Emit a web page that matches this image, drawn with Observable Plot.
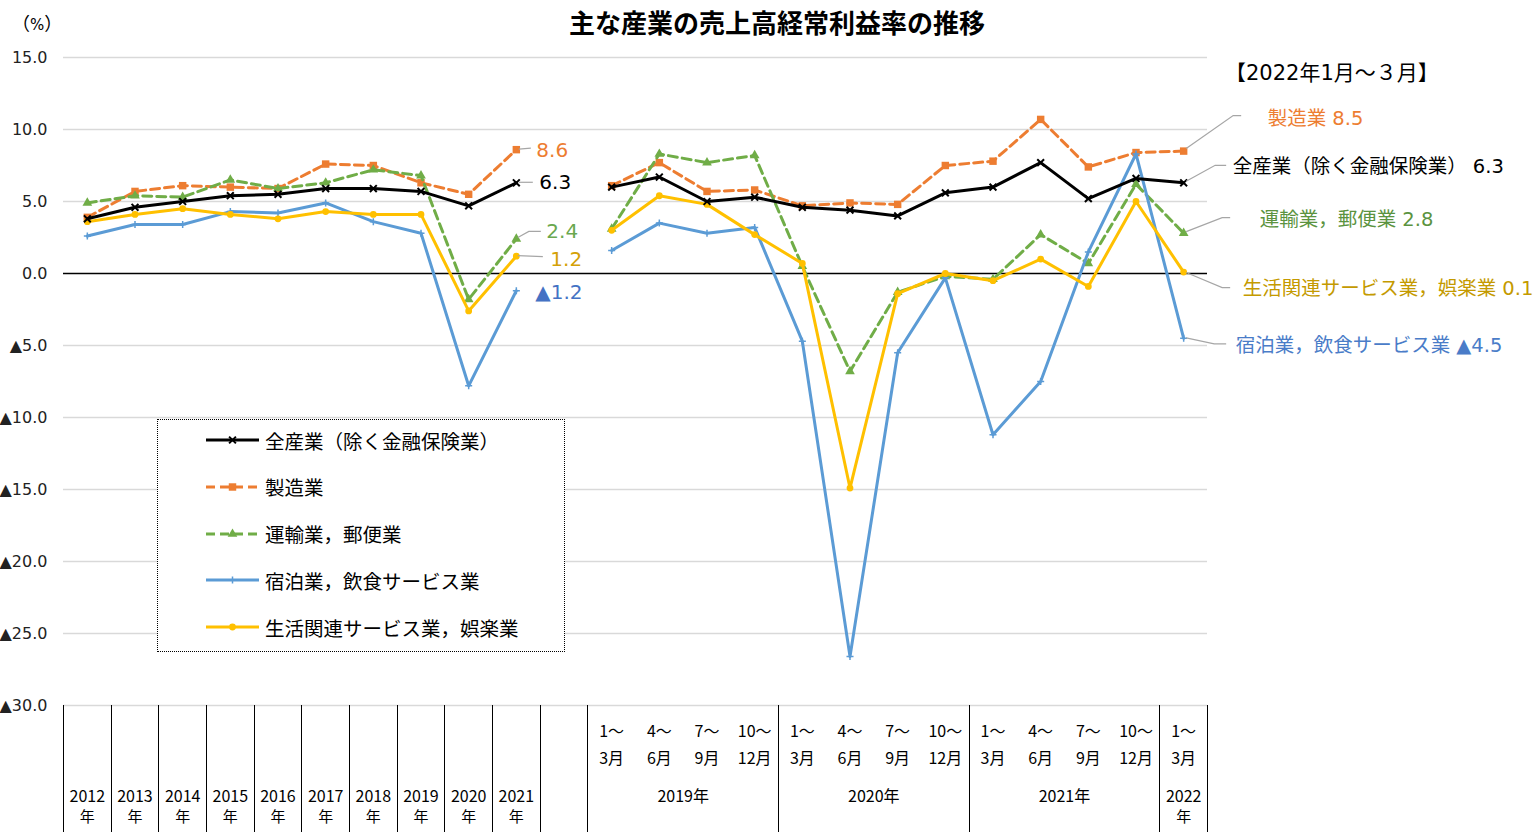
<!DOCTYPE html>
<html><head><meta charset="utf-8">
<script src="https://cdn.jsdelivr.net/npm/d3@7"></script>
<script src="https://cdn.jsdelivr.net/npm/@observablehq/plot@0.6"></script>
<style>
body{margin:0;background:#fff;}
#wrap{position:relative;width:1540px;height:832px;overflow:hidden;font-family:"DejaVu Sans","Noto Sans CJK JP",sans-serif;color:#000;}
.ov{position:absolute;white-space:nowrap;}
#title{left:0;width:1554px;top:7px;text-align:center;font-family:"Noto Sans CJK JP",sans-serif;font-weight:bold;font-size:26px;line-height:30px;}
#unit{left:12px;top:11px;font-family:"Noto Sans CJK JP",sans-serif;font-size:18px;line-height:22px;}
#unit b{font-weight:normal;font-family:"DejaVu Sans",sans-serif;font-size:15px;}
#period{left:1225px;top:59px;font-family:"DejaVu Sans","Noto Sans CJK JP",sans-serif;font-size:21px;line-height:28px;}
#legend{left:157px;top:419px;width:406px;height:231px;border:1px dotted #000;background:#fff;}
.lrow{position:absolute;left:0;height:30px;display:flex;align-items:center;}
.lrow span{font-family:"Noto Sans CJK JP",sans-serif;font-size:19.5px;margin-left:3px;}
</style></head><body><div id="wrap"></div>
<script>
// ---- data ----
const annualCats = ["2012","2013","2014","2015","2016","2017","2018","2019","2020","2021"];
const quarterTop = ["1～","4～","7～","10～","1～","4～","7～","10～","1～","4～","7～","10～","1～"];
const quarterBottom = ["3月","6月","9月","12月","3月","6月","9月","12月","3月","6月","9月","12月","3月"];
const quarterYears = ["2019年","2020年","2021年"];
const lastYear = "2022";
const seriesNames = ["全産業（除く金融保険業）","製造業","運輸業，郵便業","宿泊業，飲食サービス業","生活関連サービス業，娯楽業"];
const yTicks = [15,10,5,0,-5,-10,-15,-20,-25,-30];

const annualAll   = [3.8,4.6,5.0,5.4,5.5,5.9,5.9,5.7,4.7,6.3];
const annualMfg   = [3.9,5.7,6.1,6.0,5.9,7.6,7.5,6.3,5.5,8.6];
const annualTrans = [4.9,5.4,5.3,6.5,5.9,6.3,7.2,6.8,-1.8,2.4];
const annualHotel = [2.6,3.4,3.4,4.3,4.2,4.9,3.6,2.8,-7.8,-1.2];
const annualLife  = [3.6,4.1,4.5,4.1,3.8,4.3,4.1,4.1,-2.6,1.2];

const quarterAll   = [6.0,6.7,5.0,5.3,4.6,4.4,4.0,5.6,6.0,7.7,5.2,6.6,6.3];
const quarterMfg   = [6.1,7.7,5.7,5.8,4.7,4.9,4.8,7.5,7.8,10.7,7.4,8.4,8.5];
const quarterTrans = [3.1,8.3,7.7,8.2,0.5,-6.8,-1.3,-0.2,-0.4,2.7,0.7,6.2,2.8];
const quarterHotel = [1.6,3.5,2.8,3.2,-4.7,-26.6,-5.5,-0.3,-11.2,-7.5,1.5,8.3,-4.5];
const quarterLife  = [3.0,5.4,4.8,2.7,0.7,-14.9,-1.4,0.0,-0.5,1.0,-0.9,5.0,0.1];

// ---- styles / layout ----
const styles = [
  {color:"#000000", dash:null, symbol:"times", r:3.2, fill:"none", stroke:"#000", sw:2},
  {color:"#ED7D31", dash:"9,5", symbol:"square", r:4.2, fill:"#ED7D31", stroke:"none", sw:0},
  {color:"#70AD47", dash:"9,5", symbol:"triangle", r:3.6, fill:"#70AD47", stroke:"none", sw:0},
  {color:"#5B9BD5", dash:null, symbol:"plus", r:2.4, fill:"none", stroke:"#5B9BD5", sw:1.5},
  {color:"#FFC000", dash:null, symbol:"circle", r:3.4, fill:"#FFC000", stroke:"none", sw:0}
];
const drawOrder = [1,2,3,4,0];
const annualSeries = [annualAll,annualMfg,annualTrans,annualHotel,annualLife];
const quarterSeries = [quarterAll,quarterMfg,quarterTrans,quarterHotel,quarterLife];
const nA = annualCats.length, gap = 1, q0 = nA + gap, nSlots = q0 + quarterTop.length;

const fmt = v => v < 0 ? "▲" + Math.abs(v).toFixed(1) : v.toFixed(1);

const rows = [];
seriesNames.forEach((name,k)=>{
  annualSeries[k].forEach((v,i)=>rows.push({k, seg:0, x:i, v}));
  quarterSeries[k].forEach((v,j)=>rows.push({k, seg:1, x:q0+j, v}));
});

const leftLayout = [
  {k:1, dx:20, dy:1, leader:[[3,0],[15,-1]], color:"#ED7D31"},
  {k:0, dx:23, dy:0, leader:[[3,0],[17,0]], color:"#000000"},
  {k:2, dx:30, dy:-7, leader:[[2,-1],[13,-7],[25,-7]], color:"#6AA84F"},
  {k:4, dx:34, dy:3, leader:[[2,0],[27,1]], color:"#D4A106"},
  {k:3, dx:19, dy:2, leader:null, color:"#4472C4"}
];
const rightLayout = [
  {k:1, dx:84, dy:-32, leader:[[3,-2],[50,-35],[58,-35]], color:"#ED7D31"},
  {k:0, dx:49, dy:-16, leader:[[3,-1],[32,-17],[43,-17]], color:"#000000"},
  {k:2, dx:76, dy:-13, leader:[[3,-1],[39,-15],[47,-15]], color:"#5B9340"},
  {k:4, dx:59, dy:17, leader:[[3,1],[39,16],[47,16]], color:"#C49A00"},
  {k:3, dx:52, dy:7, leader:[[3,0],[31,6],[43,6]], color:"#4A7CC8"}
];

const lastA = nA - 1, lastQ = nSlots - 1;

function leaderMark(layout, xi, valuesOf) {
  return (index, scales) => {
    const g = d3.create("svg:g").attr("fill","none").attr("stroke","#A6A6A6").attr("stroke-width",1.2);
    layout.forEach(L => {
      if (!L.leader) return;
      const px = scales.x(xi), py = scales.y(valuesOf[L.k][valuesOf[L.k].length-1]);
      g.append("path").attr("d", d3.line()(L.leader.map(([a,b]) => [px+a, py+b])));
    });
    return g.node();
  };
}

function tableMark(index, scales, values, dims) {
  const g = d3.create("svg:g").attr("stroke","#000").attr("stroke-width",1);
  const top = dims.height - dims.marginBottom, bottom = dims.height;
  const bounds = [];
  for (let i = 0; i <= q0; i++) bounds.push(i - 0.5);
  quarterYears.forEach((_,j)=>bounds.push(q0 + 4*(j+1) - 0.5));
  bounds.push(nSlots - 0.5);
  bounds.forEach(b => {
    const px = Math.round(scales.x(b)) + 0.5;
    g.append("line").attr("x1",px).attr("x2",px).attr("y1",top).attr("y2",bottom);
  });
  return g.node();
}

const marks = [
  Plot.ruleY(yTicks.filter(d=>d!==0), {stroke:"#D9D9D9", strokeWidth:1.3}),
  Plot.ruleY([0], {stroke:"#000", strokeWidth:1.6}),
  tableMark
];
drawOrder.forEach(k=>{
  const s = styles[k];
  const data = rows.filter(d=>d.k===k);
  marks.push(Plot.line(data, {x:"x", y:"v", z:"seg", stroke:s.color, strokeWidth:3, strokeDasharray:s.dash||undefined, strokeLinejoin:"round"}));
  marks.push(Plot.dot(data, {x:"x", y:"v", symbol:()=>s.symbol, r:s.r, fill:s.fill, stroke:s.stroke, strokeWidth:s.sw}));
});
marks.push(leaderMark(leftLayout, lastA, annualSeries));
marks.push(leaderMark(rightLayout, lastQ, quarterSeries));
leftLayout.forEach(L=>{
  const v = annualSeries[L.k][lastA];
  marks.push(Plot.text([v], {x:()=>lastA, y:d=>d, text:d=>fmt(d), dx:L.dx, dy:L.dy, textAnchor:"start", fill:L.color, fontSize:20, fontFamily:"DejaVu Sans, Noto Sans CJK JP"}));
});
rightLayout.forEach(L=>{
  const v = quarterSeries[L.k][quarterSeries[L.k].length-1];
  marks.push(Plot.text([v], {x:()=>lastQ, y:d=>d, text:d=>seriesNames[L.k] + " " + fmt(d), dx:L.dx, dy:L.dy, textAnchor:"start", fill:L.color, fontSize:19.5, fontFamily:"DejaVu Sans, Noto Sans CJK JP"}));
});
// x axis table text
const xFont = "Noto Sans CJK JP";
const xSize = 16;
marks.push(Plot.text(annualCats, {x:(d,i)=>i, text:d=>d, frameAnchor:"bottom", dy:96, fontSize:xSize, fontFamily:xFont, fill:"#000"}));
marks.push(Plot.text(annualCats, {x:(d,i)=>i, text:()=>"年", frameAnchor:"bottom", dy:116, fontSize:15, fontFamily:xFont, fill:"#000"}));
marks.push(Plot.text(quarterTop, {x:(d,i)=>q0+i, text:d=>d, frameAnchor:"bottom", dy:31, fontSize:xSize, fontFamily:xFont, fill:"#000"}));
marks.push(Plot.text(quarterBottom, {x:(d,i)=>q0+i, text:d=>d, frameAnchor:"bottom", dy:58, fontSize:xSize, fontFamily:xFont, fill:"#000"}));
marks.push(Plot.text(quarterYears, {x:(d,i)=>q0+4*i+1.5, text:d=>d, frameAnchor:"bottom", dy:96, fontSize:xSize, fontFamily:xFont, fill:"#000"}));
marks.push(Plot.text([lastYear], {x:()=>lastQ, text:d=>d, frameAnchor:"bottom", dy:96, fontSize:xSize, fontFamily:xFont, fill:"#000"}));
marks.push(Plot.text([lastYear], {x:()=>lastQ, text:()=>"年", frameAnchor:"bottom", dy:116, fontSize:15, fontFamily:xFont, fill:"#000"}));

const chart = Plot.plot({
  width:1540, height:832,
  marginLeft:63, marginRight:333, marginTop:57, marginBottom:127,
  style:{fontFamily:"DejaVu Sans, Noto Sans CJK JP, sans-serif", fontSize:"16px", background:"#fff", color:"#222"},
  x:{domain:[-0.5, nSlots-0.5], axis:null},
  y:{domain:[-30,15], ticks:yTicks, tickFormat:fmt, tickSize:0, tickPadding:16, label:null},
  marks
});
const wrap = document.getElementById("wrap");
wrap.appendChild(chart);
chart.style.position="absolute"; chart.style.left="0"; chart.style.top="0";

const add = (id, text) => { const d=document.createElement("div"); d.className="ov"; d.id=id; d.textContent=text; wrap.appendChild(d); return d; };
add("title","主な産業の売上高経常利益率の推移");
const unit = add("unit","");
unit.append("（"); const pct = document.createElement("b"); pct.textContent="%"; unit.appendChild(pct); unit.append("）");
add("period","【2022年1月～３月】");
const leg = add("legend","");
const legendOrder = [0,1,2,3,4];
legendOrder.forEach((k,idx)=>{
  const s = styles[k];
  const row = document.createElement("div");
  row.className="lrow"; row.style.top=(5 + idx*46.8)+"px"; row.style.left="48px";
  const svg = d3.create("svg").attr("width",56).attr("height",20);
  svg.append("line").attr("x1",0).attr("x2",53).attr("y1",10).attr("y2",10).attr("stroke",s.color).attr("stroke-width",3).attr("stroke-dasharray",s.dash);
  const sym = {times:d3.symbolTimes, square:d3.symbolSquare, triangle:d3.symbolTriangle, plus:d3.symbolPlus, circle:d3.symbolCircle}[s.symbol];
  svg.append("path").attr("transform","translate(26.5,10)").attr("d", d3.symbol(sym, s.r*s.r*Math.PI)()).attr("fill",s.fill).attr("stroke",s.stroke).attr("stroke-width",s.sw);
  row.appendChild(svg.node());
  const sp = document.createElement("span"); sp.textContent = seriesNames[k]; row.appendChild(sp);
  leg.appendChild(row);
});
</script></body></html>
